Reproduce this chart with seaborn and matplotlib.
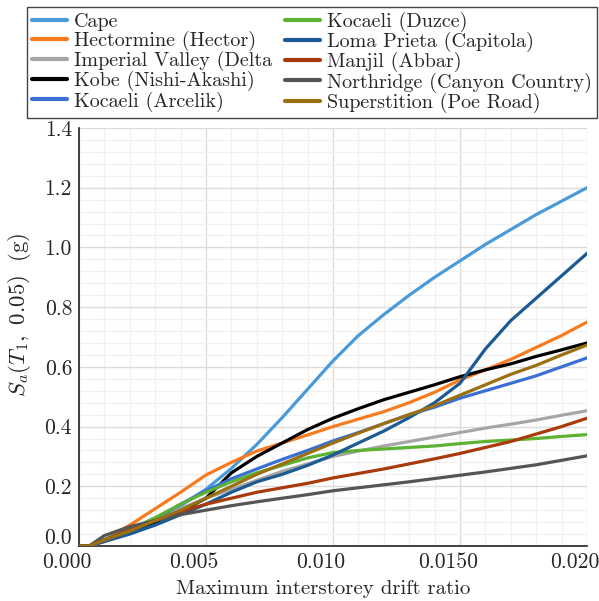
import numpy as np
import pandas as pd
import matplotlib
matplotlib.use("Agg")
import matplotlib.pyplot as plt
import matplotlib.transforms as mtransforms
import seaborn as sns
from matplotlib.ticker import MultipleLocator

drift = [0.0, 0.0004, 0.001, 0.002, 0.003, 0.004, 0.005, 0.006, 0.007, 0.008, 0.009, 0.010,
         0.011, 0.012, 0.013, 0.014, 0.015, 0.016, 0.017, 0.018, 0.019, 0.020]

cape = [0, 0, 0.015, 0.05, 0.09, 0.135, 0.19, 0.26, 0.34, 0.43, 0.525, 0.62,
        0.705, 0.775, 0.84, 0.90, 0.955, 1.01, 1.06, 1.11, 1.155, 1.20]
hector = [0, 0, 0.02, 0.07, 0.125, 0.18, 0.238, 0.28, 0.318, 0.345, 0.372, 0.40,
          0.425, 0.45, 0.48, 0.515, 0.556, 0.59, 0.625, 0.665, 0.705, 0.75]
imperial = [0, 0, 0.02, 0.055, 0.09, 0.125, 0.16, 0.19, 0.22, 0.25, 0.275, 0.30,
            0.318, 0.335, 0.35, 0.365, 0.38, 0.395, 0.408, 0.422, 0.438, 0.453]
kobe = [0, 0, 0.02, 0.05, 0.08, 0.115, 0.16, 0.245, 0.30, 0.345, 0.39, 0.428,
        0.46, 0.49, 0.515, 0.54, 0.567, 0.59, 0.61, 0.635, 0.657, 0.68]
arcelik = [0, 0, 0.02, 0.05, 0.09, 0.14, 0.185, 0.225, 0.258, 0.29, 0.32, 0.352,
           0.38, 0.41, 0.44, 0.465, 0.495, 0.52, 0.545, 0.57, 0.60, 0.63]
duzce = [0, 0, 0.02, 0.055, 0.095, 0.14, 0.18, 0.215, 0.245, 0.27, 0.295, 0.313,
         0.32, 0.325, 0.33, 0.335, 0.343, 0.35, 0.355, 0.36, 0.367, 0.373]
loma = [0, 0, 0.015, 0.04, 0.07, 0.105, 0.14, 0.18, 0.215, 0.24, 0.27, 0.305,
        0.345, 0.385, 0.43, 0.48, 0.545, 0.66, 0.755, 0.83, 0.905, 0.98]
manjil = [0, 0, 0.02, 0.055, 0.085, 0.115, 0.14, 0.16, 0.18, 0.195, 0.21, 0.228,
          0.243, 0.258, 0.275, 0.292, 0.31, 0.33, 0.35, 0.375, 0.40, 0.428]
northridge = [0, 0, 0.035, 0.065, 0.085, 0.105, 0.12, 0.135, 0.148, 0.16, 0.172, 0.185,
              0.195, 0.205, 0.215, 0.226, 0.237, 0.248, 0.26, 0.272, 0.287, 0.302]
superstition = [0, 0, 0.02, 0.05, 0.085, 0.12, 0.16, 0.20, 0.24, 0.275, 0.31, 0.345,
                0.378, 0.41, 0.44, 0.47, 0.505, 0.54, 0.575, 0.605, 0.64, 0.673]

names = ["Cape", "Hectormine (Hector)", "Imperial Valley (Delta", "Kobe (Nishi-Akashi)",
         "Kocaeli (Arcelik)", "Kocaeli (Duzce)", "Loma Prieta (Capitola)", "Manjil (Abbar)",
         "Northridge (Canyon Country)", "Superstition (Poe Road)"]
series = [cape, hector, imperial, kobe, arcelik, duzce, loma, manjil, northridge, superstition]
colors = ["#4a9ad8", "#f97a1f", "#a6a6a6", "#000000", "#3b6fd4", "#5cb232",
          "#1b5a92", "#a83a0c", "#555555", "#9a7012"]

xticks = [0.0, 0.005, 0.010, 0.015, 0.020]
xticklabels = ["0.000", "0.005", "0.010", "0.0150", "0.020"]
yticks = [0.0, 0.2, 0.4, 0.6, 0.8, 1.0, 1.2, 1.4]
yticklabels = ["0.0", "0.2", "0.4", "0.6", "0.8", "1.0", "1.2", "1.4"]

df = pd.concat([pd.DataFrame({"drift": drift, "sa": s, "record": n})
                for n, s in zip(names, series)], ignore_index=True)

sns.set_style("white")
plt.rcParams["font.family"] = "serif"
plt.rcParams["font.serif"] = ["cmr10", "DejaVu Serif"]
plt.rcParams["mathtext.fontset"] = "cm"
plt.rcParams["axes.formatter.use_mathtext"] = True
plt.rcParams["axes.unicode_minus"] = False

fig = plt.figure(figsize=(5.99, 6.01), dpi=100)
ax = fig.add_axes([79 / 599, 1 - 546 / 601, (587 - 79) / 599, (546 - 128) / 601])

sns.lineplot(data=df, x="drift", y="sa", hue="record", hue_order=names,
             palette=dict(zip(names, colors)), sort=False, estimator=None,
             linewidth=2.3, ax=ax, legend=True, zorder=3)

ax.set_xlim(0, 0.020)
ax.set_ylim(0, 1.4)
ax.set_xticks(xticks)
ax.set_xticklabels(xticklabels)
ax.set_yticks(yticks)
ax.set_yticklabels(yticklabels)
ax.xaxis.set_minor_locator(MultipleLocator(0.001))
ax.yaxis.set_minor_locator(MultipleLocator(0.04))
ax.grid(which="major", color="#dcdcdc", linewidth=1.0, zorder=0)
ax.grid(which="minor", color="#f1f1f1", linewidth=0.9, zorder=0)
ax.set_axisbelow(True)
ax.tick_params(axis="both", which="both", length=0, labelsize=15.5, pad=5)
for sp in ["top", "right"]:
    ax.spines[sp].set_visible(False)
for sp in ["left", "bottom"]:
    ax.spines[sp].set_color("#222222")
    ax.spines[sp].set_linewidth(1.2)

# tick label placement like the reference
shift_x = mtransforms.ScaledTranslation(-12 / 100, 0, fig.dpi_scale_trans)
for lab in ax.get_xticklabels():
    lab.set_transform(lab.get_transform() + shift_x)
ylabs = ax.get_yticklabels()
ylabs[0].set_transform(ylabs[0].get_transform() +
                       mtransforms.ScaledTranslation(0, 10 / 100, fig.dpi_scale_trans))

ax.set_xlabel("Maximum interstorey drift ratio", fontsize=15)
ax.xaxis.set_label_coords((323 - 79) / 508, -(580 - 546) / 418)
ax.xaxis.label.set_va("top")
ax.set_ylabel(r"$S_a(T_1,\ 0.05)\;$ (g)", fontsize=16.5)
ax.yaxis.set_label_coords(-(79 - 33) / 508, (546 - 315) / 418)

handles, labels = ax.get_legend_handles_labels()
ax.get_legend().remove()
leg = fig.legend(handles, labels, loc="upper left", ncol=2,
                 bbox_to_anchor=(27 / 599, 1 - 117 / 601, (597 - 27) / 599, 110 / 601),
                 mode="expand", fontsize=14.5, frameon=True, fancybox=False,
                 edgecolor="#444444", framealpha=1, borderaxespad=0,
                 handlelength=1.75, handletextpad=0.35, labelspacing=0.0,
                 borderpad=0.25, columnspacing=0.5)
leg.get_frame().set_linewidth(1.0)
for h in leg.get_lines():
    h.set_linewidth(3)

fig.savefig("out.png", dpi=100)
